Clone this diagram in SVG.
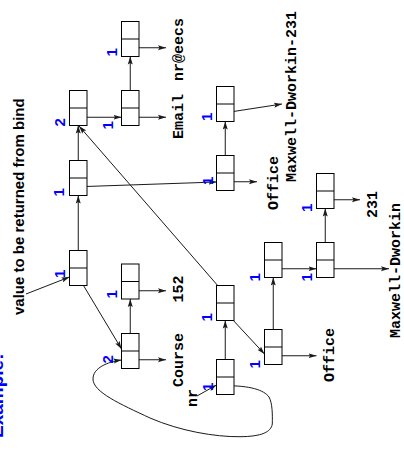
<svg xmlns="http://www.w3.org/2000/svg" width="404" height="457" viewBox="0 0 404 457">
<style>
.box{fill:#fff;stroke:#000;stroke-width:1}
.div{stroke:#000;stroke-width:1}
.ln{fill:none;stroke:#1a1a1a;stroke-width:1;marker-end:url(#ah)}
.lbl{font-family:"Liberation Sans",Arial,sans-serif;font-weight:bold;font-size:15px;fill:#0000ff}
.mono{font-family:"Liberation Mono","Courier New",monospace;font-weight:bold;font-size:15px;fill:#000}
.cap{font-family:"Liberation Sans",Arial,sans-serif;font-weight:bold;font-size:15px;fill:#000}
.title{font-family:"Liberation Sans",Arial,sans-serif;font-weight:bold;font-size:19px;fill:#0000ff}
</style>
<defs>
<marker id="ah" markerUnits="userSpaceOnUse" markerWidth="8" markerHeight="6" refX="8" refY="3" orient="auto">
<path d="M0,0.5 L8,3 L0,5.5 L1.5,3 z" fill="#1a1a1a"/>
</marker>
<g id="cell">
<rect class="box" x="0" y="0" width="17.5" height="35"/>
<line class="div" x1="0" y1="17.5" x2="17.5" y2="17.5"/>
</g>
</defs>

<text class="title" transform="translate(2.5,438) rotate(-90)">Example:</text>
<text class="cap" transform="translate(24,315) rotate(-90)">value to be returned from bind</text>

<g id="connectors">
<line class="ln" x1="130.25" y1="47.75" x2="166" y2="47.75"/>
<line class="ln" x1="130.25" y1="117.25" x2="166" y2="117.25"/>
<line class="ln" x1="130.25" y1="99.25" x2="130.25" y2="56.5"/>
<line class="ln" x1="78.25" y1="117.25" x2="121.5" y2="117.25"/>
<line class="ln" x1="78.25" y1="169.25" x2="78.25" y2="125.5"/>
<line class="ln" x1="78.25" y1="186.75" x2="216.5" y2="182"/>
<line class="ln" x1="78.25" y1="259.25" x2="78.25" y2="195.5"/>
<line class="ln" x1="78.25" y1="276.75" x2="121.5" y2="349"/>
<line class="ln" x1="26" y1="294" x2="69.5" y2="277"/>
<line class="ln" x1="130.25" y1="290.75" x2="166" y2="290.75"/>
<line class="ln" x1="130.25" y1="359.75" x2="166" y2="359.75"/>
<line class="ln" x1="130.25" y1="342.25" x2="130.25" y2="299"/>
<path class="ln" d="M225.25,385.75 C250,385.5 264,390 269,397 C272.5,403 272.5,415 272.3,424 C271,432 262,436.5 240,436.7 C215,437 180,431 150,418 C120,404 93,392 93,379 C93,368 107,362 121.5,360"/>
<line class="ln" x1="225.25" y1="368.25" x2="225.25" y2="320.5"/>
<line class="ln" x1="197" y1="396" x2="216.5" y2="385"/>
<line class="ln" x1="225.25" y1="294.25" x2="79" y2="126"/>
<line class="ln" x1="225.25" y1="311.75" x2="264.5" y2="354"/>
<line class="ln" x1="273.25" y1="355.75" x2="316.5" y2="355.75"/>
<line class="ln" x1="273.25" y1="338.25" x2="273.25" y2="277.5"/>
<line class="ln" x1="273.25" y1="268.75" x2="316.5" y2="268.75"/>
<line class="ln" x1="325.25" y1="268.75" x2="389" y2="268.75"/>
<line class="ln" x1="325.25" y1="251.25" x2="325.25" y2="208.5"/>
<line class="ln" x1="325.25" y1="199.75" x2="360" y2="199.75"/>
<line class="ln" x1="225.25" y1="164.25" x2="225.25" y2="121.5"/>
<line class="ln" x1="225.25" y1="181.75" x2="257" y2="181.75"/>
<line class="ln" x1="225.25" y1="112.75" x2="282" y2="104"/>
</g>

<g id="nodeA"><use href="#cell" x="69.5" y="90.5"/><text class="lbl" transform="translate(64.7,126.5) rotate(-90)">2</text></g>
<g id="nodeB"><use href="#cell" x="69.5" y="160.5"/><text class="lbl" transform="translate(64,196.5) rotate(-90)">1</text></g>
<g id="nodeE"><use href="#cell" x="69.5" y="250.5"/><text class="lbl" transform="translate(65,278) rotate(-90)">1</text></g>
<g id="nodeC"><use href="#cell" x="121.5" y="90.5"/><text class="lbl" transform="translate(112.7,129.5) rotate(-90)">1</text></g>
<g id="nodeD"><use href="#cell" x="121.5" y="21.5"/><text class="lbl" transform="translate(116.7,56.5) rotate(-90)">1</text></g>
<g id="nodeG"><use href="#cell" x="121.5" y="264"/><text class="lbl" transform="translate(116.7,298.5) rotate(-90)">1</text></g>
<g id="nodeF"><use href="#cell" x="121.5" y="333.5"/><text class="lbl" transform="translate(113.3,363.5) rotate(-90)">2</text></g>
<g id="nodeH"><use href="#cell" x="216.5" y="86.5"/><text class="lbl" transform="translate(211.7,121) rotate(-90)">1</text></g>
<g id="nodeI"><use href="#cell" x="216.5" y="155.5"/><text class="lbl" transform="translate(213,185) rotate(-90)">1</text></g>
<g id="nodeJ"><use href="#cell" x="216.5" y="285.5"/><text class="lbl" transform="translate(211.7,321.5) rotate(-90)">1</text></g>
<g id="nodeK"><use href="#cell" x="216.5" y="359.5"/><text class="lbl" transform="translate(213,391) rotate(-90)">1</text></g>
<g id="nodeM"><use href="#cell" x="264.5" y="242.5"/><text class="lbl" transform="translate(260,281.5) rotate(-90)">1</text></g>
<g id="nodeL"><use href="#cell" x="264.5" y="329.5"/><text class="lbl" transform="translate(260,368.5) rotate(-90)">1</text></g>
<g id="nodeN"><use href="#cell" x="316.5" y="242.5"/><text class="lbl" transform="translate(311.7,281.5) rotate(-90)">1</text></g>
<g id="nodeO"><use href="#cell" x="316.5" y="173.5"/><text class="lbl" transform="translate(311.7,212) rotate(-90)">1</text></g>

<g id="labels">
<text class="mono" transform="translate(183,139) rotate(-90)">Email</text>
<text class="mono" transform="translate(183,81) rotate(-90)">nr@eecs</text>
<text class="mono" transform="translate(183,387) rotate(-90)">Course</text>
<text class="mono" transform="translate(183,302.5) rotate(-90)">152</text>
<text class="mono" transform="translate(197,407) rotate(-90)">nr</text>
<text class="mono" transform="translate(278,210) rotate(-90)">Office</text>
<text class="mono" transform="translate(295.5,182) rotate(-90)">Maxwell-Dworkin-231</text>
<text class="mono" transform="translate(377,218) rotate(-90)">231</text>
<text class="mono" transform="translate(334,382) rotate(-90)">Office</text>
<text class="mono" transform="translate(399.5,338) rotate(-90)">Maxwell-Dworkin</text>
</g>
</svg>
